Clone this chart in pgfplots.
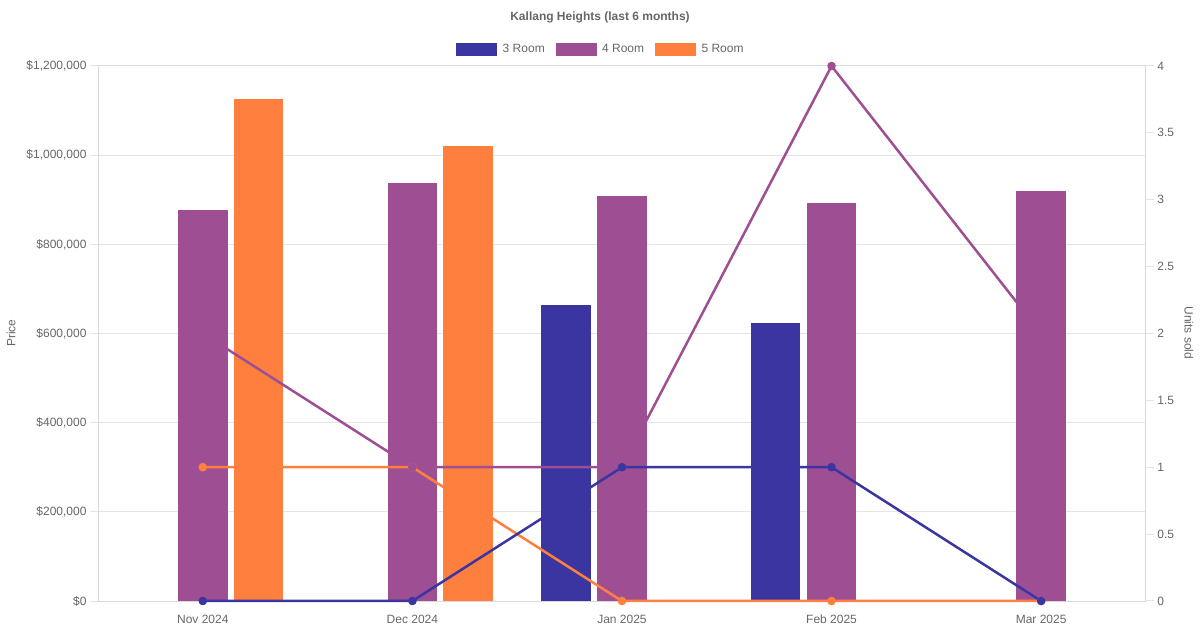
\documentclass[border=0pt]{standalone}
\usepackage{fontspec}
\setmainfont{Liberation Sans}
\usepackage{pgfplots}
\pgfplotsset{compat=1.18}
\definecolor{c3}{HTML}{3A35A0}
\definecolor{c4}{HTML}{9E4F93}
\definecolor{c5}{HTML}{FF7F3F}
\definecolor{txt}{HTML}{666666}
\definecolor{gridc}{HTML}{E5E5E5}
\definecolor{axc}{HTML}{D9D9D9}
\newcommand\barmark[2]{%
  \pgfdeclareplotmark{#1}{%
    \pgfsetcornersarced{\pgfpoint{4bp}{4bp}}%
    \pgfpathmoveto{\pgfpoint{#2bp-24.8bp}{-800bp}}%
    \pgfpathlineto{\pgfpoint{#2bp-24.8bp}{0bp}}%
    \pgfpathlineto{\pgfpoint{#2bp+24.8bp}{0bp}}%
    \pgfpathlineto{\pgfpoint{#2bp+24.8bp}{-800bp}}%
    \pgfpathclose
    \pgfusepathqfill}}
\barmark{rbarL}{-55.9}
\barmark{rbarC}{0}
\barmark{rbarR}{55.9}
\newcommand\fs{\fontsize{12bp}{14bp}\selectfont}
\begin{document}
\begin{tikzpicture}
\useasboundingbox (0,0) rectangle (1200bp,630bp);
\begin{axis}[
  at={(98bp,29bp)}, anchor=south west, scale only axis,
  width=1048bp, height=535bp,
  xmin=-0.5, xmax=4.5, ymin=0, ymax=1200000,
  axis line style={draw=axc, line width=1bp},
  xtick={0,1,2,3,4},
  xticklabels={Nov 2024,Dec 2024,Jan 2025,Feb 2025,Mar 2025},
  x tick style={draw=none},
  ytick={0,200000,400000,600000,800000,1000000,1200000},
  yticklabels={\$0,{\$200,000},{\$400,000},{\$600,000},{\$800,000},{\$1,000,000},{\$1,200,000}},
  scaled y ticks=false,
  ytick pos=left, tick align=outside, major tick length=8bp,
  y tick style={draw=gridc, line width=1bp},
  ymajorgrids, grid style={draw=gridc, line width=1bp},
  ticklabel style={font=\fs, text=txt},
  xticklabel style={text height=8.6bp, text depth=0pt, yshift=-2bp},
  clip marker paths=true,
  legend columns=3,
  legend style={draw=none, fill=none, at={(0.5,1.0318)}, anchor=center,
    xshift=-22bp,
    font=\fs, text=txt, inner sep=0pt,
    nodes={inner sep=0pt},
    /tikz/every odd column/.append style={column sep=6bp},
    /tikz/every even column/.append style={column sep=11bp}},
]
\addlegendimage{legend image code/.code={\fill[c3] (0bp,-6bp) rectangle (40bp,6bp);}}
\addlegendentry{3 Room}
\addlegendimage{legend image code/.code={\fill[c4] (0bp,-6bp) rectangle (40bp,6bp);}}
\addlegendentry{4 Room}
\addlegendimage{legend image code/.code={\fill[c5] (0bp,-6bp) rectangle (40bp,6bp);}}
\addlegendentry{5 Room}
\addplot[only marks, mark=rbarL, color=c3, forget plot] coordinates {(2,664000) (3,624000)};
\addplot[only marks, mark=rbarC, color=c4, forget plot] coordinates {(0,878000) (1,937000) (2,909000) (3,893000) (4,920000)};
\addplot[only marks, mark=rbarR, color=c5, forget plot] coordinates {(0,1127000) (1,1020000)};
\end{axis}
\begin{axis}[
  at={(98bp,29bp)}, anchor=south west, scale only axis,
  width=1048bp, height=535bp,
  xmin=-0.5, xmax=4.5, ymin=0, ymax=4,
  axis x line=none, axis y line*=right,
  axis line style={draw=axc, line width=1bp, -},
  ytick={0,0.5,1,1.5,2,2.5,3,3.5,4},
  yticklabels={0,0.5,1,1.5,2,2.5,3,3.5,4},
  tick align=outside, major tick length=8bp,
  y tick style={draw=gridc, line width=1bp},
  ticklabel style={font=\fs, text=txt},
  clip=false,
]
\addplot[c5, line width=2.5bp, line join=round, mark=*, mark size=3bp, mark options={solid, draw=none, fill=c5}] coordinates {(0,1) (1,1) (2,0) (3,0) (4,0)};
\addplot[c4, line width=2.5bp, line join=round, mark=*, mark size=3bp, mark options={solid, draw=none, fill=c4}] coordinates {(0,2) (1,1) (2,1) (3,4) (4,2)};
\addplot[c3, line width=2.5bp, line join=round, mark=*, mark size=3bp, mark options={solid, draw=none, fill=c3}] coordinates {(0,0) (1,0) (2,1) (3,1) (4,0)};
\end{axis}
\node[font=\bfseries\fs, text=txt] at (600bp,612.5bp) {Kallang Heights (last 6 months)};
\node[rotate=90, font=\fs, text=txt] at (11bp,297bp) {Price};
\node[rotate=-90, font=\fs, text=txt] at (1189bp,297bp) {Units sold};
\end{tikzpicture}
\end{document}
